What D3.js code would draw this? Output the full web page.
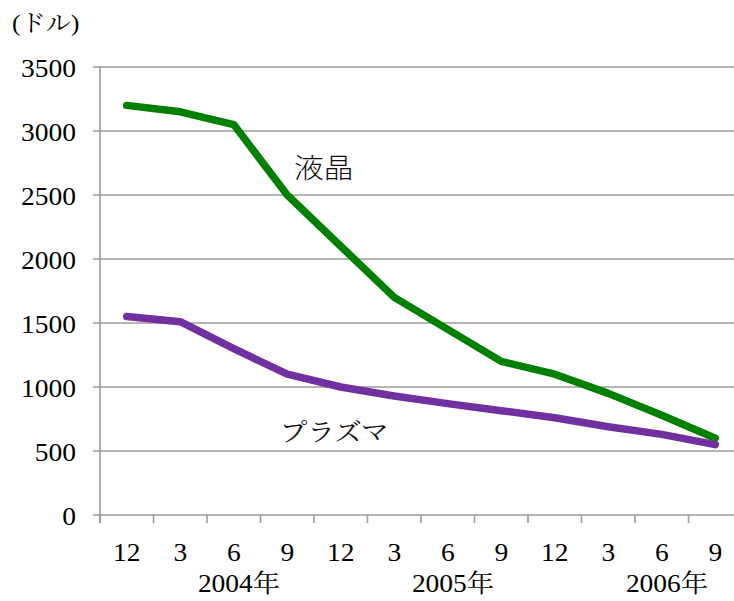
<!DOCTYPE html>
<html>
<head>
<meta charset="utf-8">
<script src="https://cdn.jsdelivr.net/npm/d3@7"></script>
<style>
  html, body { margin: 0; padding: 0; background: #fff; }
  svg { display: block; }
</style>
</head>
<body>
<svg id="chart" width="734" height="601"></svg>
<script>
// Quarterly price points, Dec 2004 through Sep 2006
const months = ["12", "3", "6", "9", "12", "3", "6", "9", "12", "3", "6", "9"];
const lcdPrices = [3200, 3150, 3050, 2500, 2100, 1700, 1450, 1200, 1100, 950, 780, 600];
const plasmaPrices = [1550, 1510, 1300, 1100, 1000, 930, 870, 815, 760, 690, 630, 550];
const yTicks = [0, 500, 1000, 1500, 2000, 2500, 3000, 3500];
const years = ["2004年", "2005年", "2006年"];
const yearAt = [2.1, 6.1, 10.1];   // in category units

const serif = "'Liberation Serif', 'Noto Serif CJK JP', 'Times New Roman', serif";
const serifJP = "'Noto Serif CJK JP', serif";
const sansJP = "'Noto Sans CJK JP', sans-serif";
const stretch = "scale(1.1,1)";   // slightly wide lettering

const svg = d3.select("#chart");
const plotLeft = 100, plotTop = 67, plotBottom = 515;
const step = 53.5;

const x = d3.scaleBand()
  .domain(d3.range(months.length))
  .range([plotLeft, plotLeft + step * months.length])
  .paddingInner(0).paddingOuter(0);

const y = d3.scaleLinear().domain([0, 3500]).range([plotBottom, plotTop]);

const gridColor = "#9a9a9a";

// Horizontal gridlines with short ticks on the left
svg.append("g").selectAll("line")
  .data(yTicks)
  .join("line")
  .attr("x1", plotLeft - 7).attr("x2", 734)
  .attr("y1", d => y(d)).attr("y2", d => y(d))
  .attr("stroke", gridColor).attr("stroke-width", 1.6);

// Y axis line
svg.append("line")
  .attr("x1", plotLeft).attr("x2", plotLeft)
  .attr("y1", plotTop).attr("y2", plotBottom + 8)
  .attr("stroke", gridColor).attr("stroke-width", 1.6);

// X tick marks at category boundaries
svg.append("g").selectAll("line")
  .data(d3.range(months.length))
  .join("line")
  .attr("x1", d => x(d)).attr("x2", d => x(d))
  .attr("y1", plotBottom).attr("y2", plotBottom + 8)
  .attr("stroke", gridColor).attr("stroke-width", 1.6);

// Text placed at (px, py), widened a little
function label(sel, px, py) {
  return sel.attr("transform", (d, i) =>
    `translate(${typeof px === "function" ? px(d, i) : px},${typeof py === "function" ? py(d, i) : py}) ${stretch}`);
}

// Y tick labels
label(svg.append("g").selectAll("text")
  .data(yTicks)
  .join("text"), 76, d => y(d) + 10)
  .attr("text-anchor", "end")
  .attr("font-family", serif).attr("font-size", 25)
  .attr("fill", "#000")
  .text(d => d);

// Month labels
label(svg.append("g").selectAll("text")
  .data(months)
  .join("text"), (d, i) => x(i) + x.bandwidth() / 2, 561)
  .attr("text-anchor", "middle")
  .attr("font-family", serif).attr("font-size", 25)
  .text(d => d);

// Year labels
label(svg.append("g").selectAll("text")
  .data(years)
  .join("text"), (d, i) => plotLeft + step * (yearAt[i] + 0.5), 592)
  .attr("text-anchor", "middle")
  .attr("font-family", serif).attr("font-size", 25)
  .text(d => d);

// Unit label
const unit = svg.append("text")
  .attr("transform", `translate(12,31) ${stretch}`)
  .attr("font-family", serif).attr("font-size", 23);
unit.append("tspan").text("(");
unit.append("tspan").attr("font-family", serifJP).text("ドル");
unit.append("tspan").text(")");

const line = d3.line()
  .x((d, i) => x(i) + x.bandwidth() / 2)
  .y(d => y(d));

svg.append("path")
  .datum(lcdPrices)
  .attr("d", line)
  .attr("fill", "none")
  .attr("stroke", "#008000").attr("stroke-width", 7.5)
  .attr("stroke-linecap", "round").attr("stroke-linejoin", "round");

svg.append("path")
  .datum(plasmaPrices)
  .attr("d", line)
  .attr("fill", "none")
  .attr("stroke", "#7030a0").attr("stroke-width", 7.5)
  .attr("stroke-linecap", "round").attr("stroke-linejoin", "round");

// Series names
svg.append("text")
  .attr("transform", `translate(294,178) ${stretch}`)
  .attr("font-family", sansJP).attr("font-size", 27).attr("font-weight", 300)
  .attr("fill", "#111")
  .text("液晶");

svg.append("text")
  .attr("transform", `translate(280,441) ${stretch}`)
  .attr("font-family", serifJP).attr("font-size", 25)
  .attr("fill", "#111")
  .text("プラズマ");
</script>
</body>
</html>
